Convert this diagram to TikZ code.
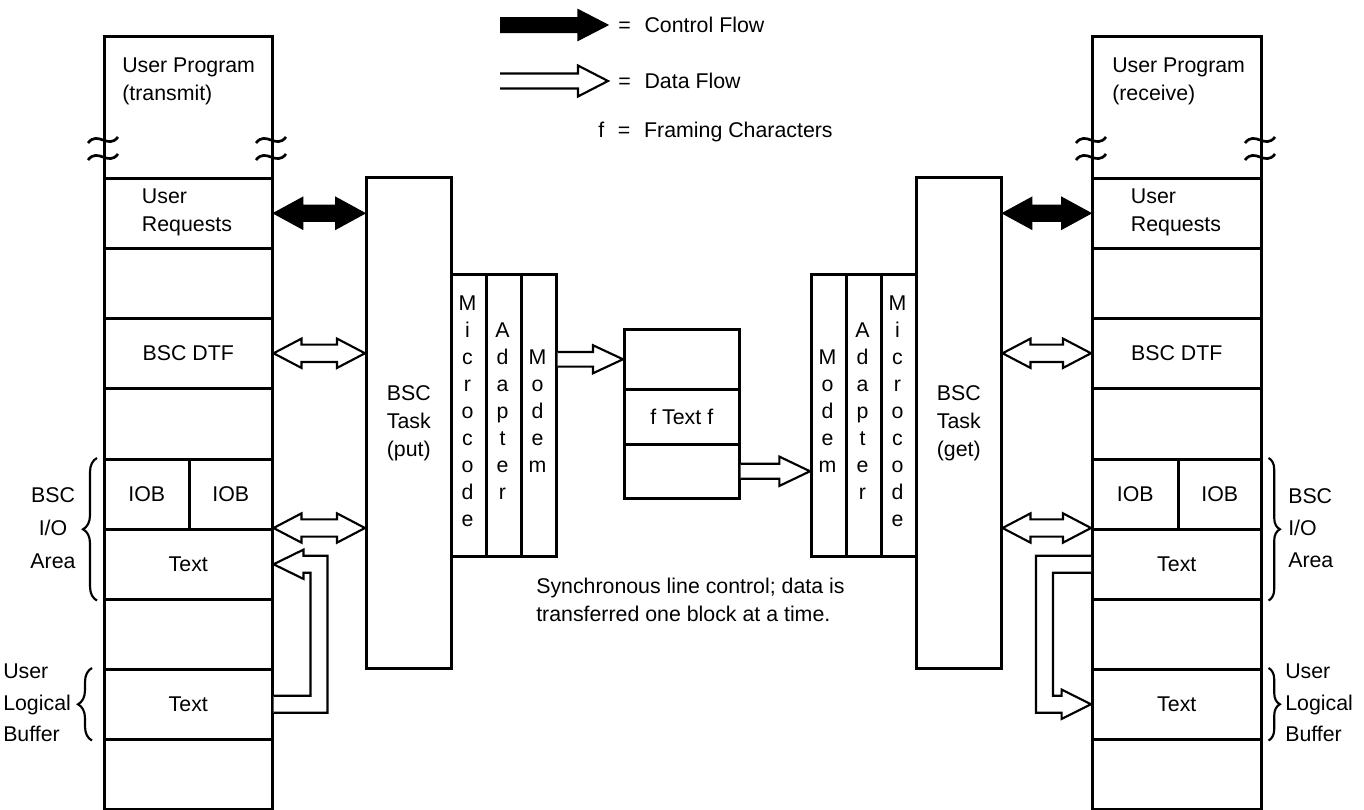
\documentclass[tikz,border=0pt]{standalone}
\usepackage{fontspec}
\setmainfont{Liberation Sans}
\usetikzlibrary{calc,decorations.pathreplacing}

% one unit of the drawing grid
\newlength\upx
\setlength\upx{0.75pt}

% horizontal double-headed block arrow: style, head length, head half-width, shaft half-width, from, to
\newcommand\twohead[6]{%
  \path[#1] let \p1=#5, \p2=#6 in
    (\x1,\y1) -- (\x1+#2,\y1+#3) -- (\x1+#2,\y1+#4) -- (\x2-#2,\y1+#4) -- (\x2-#2,\y1+#3)
    -- (\x2,\y1) -- (\x2-#2,\y1-#3) -- (\x2-#2,\y1-#4) -- (\x1+#2,\y1-#4) -- (\x1+#2,\y1-#3) -- cycle;}

% horizontal single-headed block arrow with an open tail
\newcommand\onehead[6]{%
  \path[#1] let \p1=#5, \p2=#6 in
    (\x1,\y1+#4) -- (\x2-#2,\y1+#4) -- (\x2-#2,\y1+#3) -- (\x2,\y1)
    -- (\x2-#2,\y1-#3) -- (\x2-#2,\y1-#4) -- (\x1,\y1-#4);}

% break mark on a column edge
\newcommand\brk[2]{%
  \draw[wave] (#1-15,#2+3) .. controls (#1-5,#2-10) and (#1+5,#2+10) .. (#1+15,#2-3);}

\begin{document}
\begin{tikzpicture}[x=0.75pt,y=-0.75pt,
  every node/.style={inner sep=0pt, font=\fontsize{16pt}{21pt}\selectfont},
  box/.style 2 args={draw, line width=1.9pt, rectangle, anchor=north west,
    minimum width=#1\upx, minimum height=#2\upx},
  stack/.style={align=center, font=\fontsize{16pt}{20.25pt}\selectfont},
  lines/.style={align=left, font=\fontsize{16pt}{21pt}\selectfont},
  tall/.style={font=\fontsize{16pt}{23.5pt}\selectfont},
  ctrl/.style={fill=black, draw=black, line width=0.8pt, line join=miter},
  data/.style={fill=white, draw=black, line width=1.6pt, line join=miter},
  lbrace/.style={decorate, decoration={brace, amplitude=10.5pt}, line width=1.6pt},
  rbrace/.style={decorate, decoration={brace, amplitude=8.5pt}, line width=1.6pt},
  wave/.style={line width=2pt},
]
\useasboundingbox (0,0) rectangle (1364,810);

% ---------- legend ----------
\coordinate (lgc1) at (500,25);
\coordinate (lgc2) at (608,25);
\coordinate (lgd1) at (500,81);
\coordinate (lgd2) at (608,81);
\onehead{ctrl}{22.5pt}{11.6pt}{5.6pt}{(lgc1)}{(lgc2)}
\onehead{data}{22.5pt}{11.6pt}{5.6pt}{(lgd1)}{(lgd2)}
\node[anchor=west] (lgct) at (618,25) {=\hspace{0.65em}Control Flow};
\node[anchor=west] (lgdt) at (618,81) {=\hspace{0.65em}Data Flow};
\node[anchor=west] (lgft) at (598,132) {f\hspace{0.64em}=\hspace{0.65em}Framing Characters};

% ---------- transmitting user program ----------
\node[box={168}{142}] (lprog) at (103,35) {};
\node[box={168}{70}]  (lreq)  at (103,177) {};
\node[box={168}{70}]  (lgap1) at (103,247) {};
\node[box={168}{70}]  (ldtf)  at (103,317) {BSC DTF};
\node[box={168}{71}]  (lgap2) at (103,387) {};
\node[box={85}{70}]   (liobA) at (103,458) {IOB};
\node[box={83}{70}]   (liobB) at (188,458) {IOB};
\node[box={168}{70}]  (ltxtA) at (103,528) {Text};
\node[box={168}{70}]  (lgap3) at (103,598) {};
\node[box={168}{70}]  (ltxtB) at (103,668) {Text};
\node[box={168}{70}]  (lgap4) at (103,738) {};
\node[lines, anchor=west] (lprogt) at (122,81) {User Program\\(transmit)};
\node[lines] (lreqt) at (187,212) {User\\Requests};
\brk{103}{140} \brk{103}{157} \brk{271}{140} \brk{271}{157}

% ---------- receiving user program ----------
\node[box={169}{142}] (rprog) at (1091,35) {};
\node[box={169}{70}]  (rreq)  at (1091,177) {};
\node[box={169}{70}]  (rgap1) at (1091,247) {};
\node[box={169}{70}]  (rdtf)  at (1091,317) {BSC DTF};
\node[box={169}{71}]  (rgap2) at (1091,387) {};
\node[box={86}{70}]   (riobA) at (1091,458) {IOB};
\node[box={83}{70}]   (riobB) at (1177,458) {IOB};
\node[box={169}{70}]  (rtxtA) at (1091,528) {Text};
\node[box={169}{70}]  (rgap3) at (1091,598) {};
\node[box={169}{70}]  (rtxtB) at (1091,668) {Text};
\node[box={169}{70}]  (rgap4) at (1091,738) {};
\node[lines, anchor=west] (rprogt) at (1112,81) {User Program\\(receive)};
\node[lines] (rreqt) at (1176,212) {User\\Requests};
\brk{1091}{140} \brk{1091}{157} \brk{1260}{140} \brk{1260}{157}

% ---------- BSC tasks and line hardware ----------
\node[box={85}{491}, lines] (ptask) at (365,176) {BSC\\Task\\(put)};
\node[box={35}{282}] (pmicro) at (450,273) {};
\node[box={35}{282}] (pada)   at (485,273) {};
\node[box={35}{282}] (pmodem) at (520,273) {};
\node[stack] (pmicrot) at (467.5,411) {M\\i\\c\\r\\o\\c\\o\\d\\e};
\node[stack] (padat)   at (502.5,411) {A\\d\\a\\p\\t\\e\\r};
\node[stack] (pmodemt) at (537.5,411) {M\\o\\d\\e\\m};

\node[box={85}{491}, lines] (gtask) at (915,176) {BSC\\Task\\(get)};
\node[box={35}{282}] (gmodem) at (810,273) {};
\node[box={35}{282}] (gada)   at (845,273) {};
\node[box={35}{282}] (gmicro) at (880,273) {};
\node[stack] (gmodemt) at (827.5,411) {M\\o\\d\\e\\m};
\node[stack] (gadat)   at (862.5,411) {A\\d\\a\\p\\t\\e\\r};
\node[stack] (gmicrot) at (897.5,411) {M\\i\\c\\r\\o\\c\\o\\d\\e};

% ---------- transmitted block ----------
\node[box={115}{60}] (fA) at (623,328) {};
\node[box={115}{55}] (fB) at (623,388) {f Text f};
\node[box={115}{54}] (fC) at (623,443) {};
\node[lines, anchor=west] (synct) at (536,600) {Synchronous line control; data is\\transferred one block at a time.};

% ---------- flows ----------
\twohead{ctrl}{22pt}{12pt}{6pt}{(lreq.east)}{(ptask.west |- lreq.east)}
\twohead{data}{21pt}{11pt}{6.5pt}{(ldtf.east)}{(ptask.west |- ldtf.east)}
\twohead{data}{21pt}{11pt}{6.5pt}{(ltxtA.north east)}{(ptask.west |- ltxtA.north east)}
\twohead{ctrl}{22pt}{12pt}{6pt}{(gtask.east |- rreq.west)}{(rreq.west)}
\twohead{data}{21pt}{11pt}{6.5pt}{(gtask.east |- rdtf.west)}{(rdtf.west)}
\twohead{data}{21pt}{11pt}{6.5pt}{(gtask.east |- rtxtA.north west)}{(rtxtA.north west)}

\onehead{data}{22.5pt}{10.5pt}{5.5pt}{(pmodem.east |- fA.west)}{(fA.west)}
\onehead{data}{23pt}{11pt}{5.6pt}{(fC.east)}{(gmodem.west |- fC.east)}

% user buffer to I/O area (transmit side)
\path[data] let \p1=(ltxtB.east), \p2=(ltxtA.east) in
  (\x1,\y1-6.4pt) -- (\x1+40.5pt,\y1-6.4pt) -- (\x1+40.5pt,\y2+6.4pt)
  -- (\x2+22.5pt,\y2+6.4pt) -- (\x2+22.5pt,\y2+11pt) -- (\x2,\y2)
  -- (\x2+22.5pt,\y2-11pt) -- (\x2+22.5pt,\y2-6.4pt) -- (\x1+27.75pt,\y2-6.4pt)
  -- (\x1+27.75pt,\y1+6.4pt) -- (\x1,\y1+6.4pt);

% I/O area to user buffer (receive side)
\path[data] let \p1=(rtxtA.west), \p2=(rtxtB.west) in
  (\x1,\y1+6.4pt) -- (\x1-41.25pt,\y1+6.4pt) -- (\x1-41.25pt,\y2-6.4pt)
  -- (\x2-22pt,\y2-6.4pt) -- (\x2-22pt,\y2-11pt) -- (\x2,\y2)
  -- (\x2-22pt,\y2+11pt) -- (\x2-22pt,\y2+6.4pt) -- (\x1-28.5pt,\y2+6.4pt)
  -- (\x1-28.5pt,\y1-6.4pt) -- (\x1,\y1-6.4pt);

% ---------- braces ----------
\draw[lbrace] ([xshift=-4.5pt]ltxtA.south west) -- ([xshift=-4.5pt]liobA.north west);
\draw[lbrace] ([xshift=-8.25pt]ltxtB.south west) -- ([xshift=-8.25pt]ltxtB.north west);
\draw[rbrace] ([xshift=4.5pt]riobB.north east) -- ([xshift=4.5pt]rtxtA.south east);
\draw[rbrace] ([xshift=4.5pt]rtxtB.north east) -- ([xshift=4.5pt]rtxtB.south east);
\node[align=center, tall, font=\fontsize{16pt}{24.5pt}\selectfont] (lbsct) at (53,528) {BSC\\I/O\\Area};
\node[lines, tall, anchor=west] (lulbt) at (3,703) {User\\Logical\\Buffer};
\node[lines, tall, font=\fontsize{16pt}{24pt}\selectfont, anchor=west] (rbsct) at (1288,528) {BSC\\I/O\\Area};
\node[lines, tall, anchor=west] (rulbt) at (1285,703) {User\\Logical\\Buffer};
\end{tikzpicture}
\end{document}
